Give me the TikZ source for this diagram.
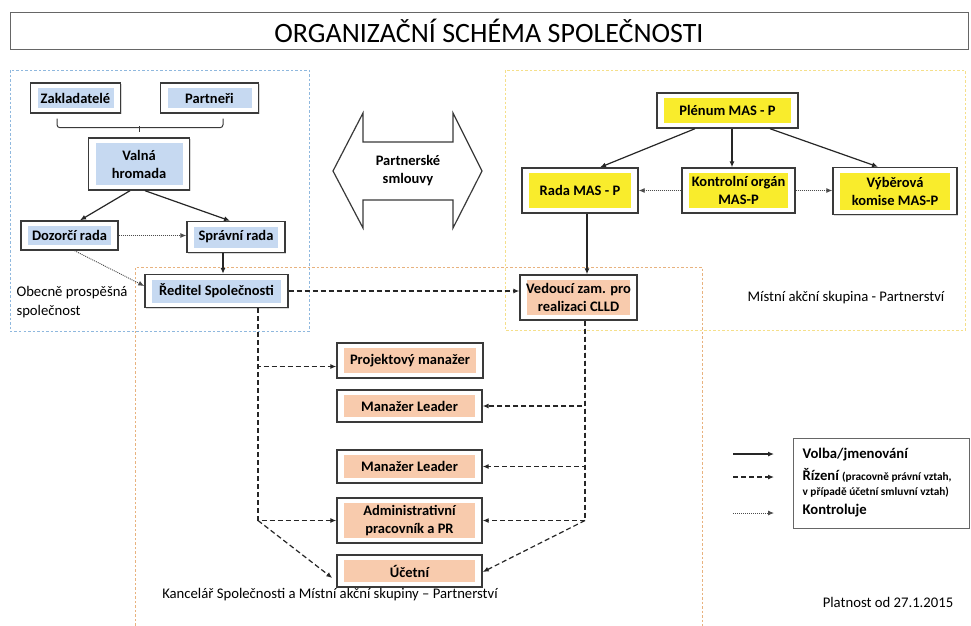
\documentclass[tikz,border=0pt]{standalone}
\usepackage{fontspec}
\setmainfont{Carlito}
\usetikzlibrary{arrows.meta,shadows,calc}
\definecolor{boxblue}{HTML}{C6D9F1}
\definecolor{boxyellow}{HTML}{F9EC2C}
\definecolor{boxpeach}{HTML}{F8CBAD}
\definecolor{regblue}{HTML}{8FB8DE}
\definecolor{regyellow}{HTML}{F5DF8A}
\definecolor{regorange}{HTML}{E8B27E}
\definecolor{edge}{HTML}{3A3A3A}
\tikzset{
  base/.style={draw=edge, line width=1.4pt, fill=white, align=center,
    font=\fontsize{14.5}{18}\selectfont\bfseries, inner sep=1pt,
    drop shadow={shadow xshift=1.3pt,shadow yshift=-1.3pt,opacity=0.3}},
  infill/.style={path picture={\fill[#1] ([shift={(7pt,-5pt)}]path picture bounding box.north west) rectangle ([shift={(-7pt,5pt)}]path picture bounding box.south east);}},
  bluebox/.style={base, infill=boxblue},
  yellowbox/.style={base, infill=boxyellow},
  peachbox/.style={base, infill=boxpeach},
  tip/.style={-{Latex[length=6pt,width=5pt]}},
  solidc/.style={tip, draw=black!85, line width=1.2pt},
  dashc/.style={tip, draw=black!85, line width=1.2pt, dash pattern=on 5pt off 3pt},
  dotc/.style={tip, draw=black!70, line width=0.9pt, dash pattern=on 1pt off 1pt},
  region/.style={line width=1pt, dash pattern=on 2.5pt off 2pt},
  plain/.style={font=\fontsize{14.7}{19}\selectfont},
}
\begin{document}
\begin{tikzpicture}[x=1pt,y=-1pt]
\useasboundingbox[fill=white] (0,0) rectangle (971,625);

% title
\node[draw=black!60, line width=1pt, minimum width=958pt, minimum height=37pt,
  font=\fontsize{28}{32}\selectfont] (title) at (489,30.5) {ORGANIZAČNÍ SCHÉMA SPOLEČNOSTI};

% regions
\draw[region, regblue] (10,70) rectangle (309,331);
\draw[region, regyellow] (505,70) rectangle (965,330);
\draw[region, regorange] (135,630) -- (135,267) -- (702,267) -- (702,630);

% left group
\node[bluebox, minimum width=90pt, minimum height=30pt] (zak) at (75.5,98) {Zakladatelé};
\node[bluebox, minimum width=98pt, minimum height=30pt] (par) at (209.5,98) {Partneři};
\node[bluebox, minimum width=101pt, minimum height=52pt] (val) at (139,164) {Valná\\hromada};
\node[bluebox, minimum width=97pt, minimum height=29pt] (doz) at (69.5,235.5) {Dozorčí rada};
\node[bluebox, minimum width=98pt, minimum height=31pt] (spr) at (236,237) {Správní rada};
\node[bluebox, minimum width=143pt, minimum height=33pt] (red) at (216.5,291) {Ředitel Společnosti};

% brace
\coordinate (brL) at ([xshift=-18.5pt,yshift=-5pt]zak.south);
\coordinate (brR) at ([xshift=13.5pt,yshift=-5pt]par.south);
\draw[edge, line width=1pt, rounded corners=3pt] (brL) -- ++(0,9) -- ($(brR)+(0,9)$) -- (brR);
\draw[edge, line width=1pt] ($(val.north)+(0,-11)$) -- ($(val.north)+(0,-5)$);

% double arrow
\draw[edge, line width=1.2pt, fill=white, line join=miter]
  (333,171) -- (363,113) -- (363,142) -- (453,142) -- (453,113) -- (482,171)
  -- (453,228) -- (453,200) -- (363,200) -- (363,228) -- cycle;
\node[font=\fontsize{14.5}{18}\selectfont\bfseries, align=center] (ps) at (408,171) {Partnerské\\smlouvy};

% right group
\node[yellowbox, minimum width=141pt, minimum height=35pt] (plen) at (727.5,110.5) {Plénum MAS - P};
\node[yellowbox, minimum width=116pt, minimum height=45pt] (rada) at (580,190.5) {Rada MAS - P};
\node[yellowbox, minimum width=113pt, minimum height=45pt] (kont) at (738.5,190.5) {Kontrolní orgán\\MAS-P};
\node[yellowbox, minimum width=124pt, minimum height=47pt] (vyb) at (895,191) {Výběrová\\komise MAS-P};
\node[peachbox, minimum width=117pt, minimum height=45pt] (ved) at (578.5,297.5) {Vedoucí zam. pro\\realizaci CLLD};

% office
\node[peachbox, minimum width=146pt, minimum height=35pt] (proj) at (410,360.5) {Projektový manažer};
\node[peachbox, minimum width=145pt, minimum height=32pt] (ml1) at (409.5,406) {Manažer Leader};
\node[peachbox, minimum width=145pt, minimum height=33pt] (ml2) at (409.5,466.5) {Manažer Leader};
\node[peachbox, minimum width=145pt, minimum height=45pt] (adm) at (409.5,520.5) {Administrativní\\pracovník a PR};
\node[peachbox, minimum width=145pt, minimum height=32pt] (uce) at (409.5,571) {Účetní};

% connectors left
\draw[solidc] ([xshift=-9pt]val.south) -- ([xshift=10.5pt]doz.north);
\draw[solidc] ([xshift=6pt]val.south) -- ([xshift=-6pt]spr.north);
\draw[dotc] (doz.east) -- (doz.east -| spr.west);
\draw[solidc] ([xshift=-13pt]spr.south) -- ([xshift=-13pt]spr.south |- red.north);
\draw[dotc] ([xshift=5pt]doz.south) -- ([yshift=5pt]red.west);
\draw[dashc] (red.east) -- (red.east -| ved.west);

% connectors right
\draw[solidc] ([xshift=-32.5pt]plen.south) -- ([xshift=20pt]rada.north);
\draw[solidc] ([xshift=4.5pt]plen.south) -- ([xshift=4.5pt]plen.south |- kont.north);
\draw[solidc] ([xshift=42.5pt]plen.south) -- ([xshift=-17pt]vyb.north);
\draw[dotc] (kont.west) -- (rada.east);
\draw[dotc] (kont.east) -- (kont.east -| vyb.west);
\draw[solidc] ([xshift=7pt]rada.south) -- ([xshift=7pt]rada.south |- ved.north);

% office connectors
\coordinate (jl) at ([xshift=41.5pt]red.south |- adm.west);
\coordinate (jr) at ([xshift=6.5pt]ved.south |- adm.east);
\draw[dashc] ([xshift=41.5pt]red.south) |- ([yshift=-6pt]proj.west);
\draw[dashc] ([xshift=41.5pt]red.south) |- (adm.west);
\draw[dashc] (jl) -- ([xshift=-4pt,yshift=-7pt]uce.west);
\draw[dashc] ([xshift=6.5pt]ved.south) |- (ml1.east);
\draw[dashc] ([xshift=6.5pt]ved.south) |- (ml2.east);
\draw[dashc] ([xshift=6.5pt]ved.south) |- (adm.east);
\draw[dashc] (jr) -- ([yshift=-1pt]uce.east);

% labels
\node[plain, anchor=west, align=left] (lop) at (13,302) {Obecně prospěšná\\společnost};
\node[plain] (lmas) at (846,298) {Místní akční skupina - Partnerství};
\node[plain] (lkan) at (330,595) {Kancelář Společnosti a Místní akční skupiny – Partnerství};
\node[plain] (lplat) at (888,602) {Platnost od 27.1.2015};

% legend
\node[draw=black!60, line width=1.2pt, minimum width=176pt, minimum height=90pt, anchor=north west] (leg) at (793,438) {};
\node[anchor=west, font=\fontsize{14.7}{17}\selectfont\bfseries] (lv) at (799,455) {Volba/jmenování};
\node[anchor=west, font=\fontsize{14.7}{17}\selectfont\bfseries] (lr) at (799,475) {Řízení {\fontsize{11.3}{13}\selectfont (pracovně právní vztah,}};
\node[anchor=west, font=\fontsize{11.3}{13}\selectfont\bfseries] (lr2) at (799,492) {v případě účetní smluvní vztah)};
\node[anchor=west, font=\fontsize{14.7}{17}\selectfont\bfseries] (lk) at (799,511) {Kontroluje};
\coordinate (a1) at (733,454); \coordinate (b1) at (774,454);
\coordinate (a2) at (733,477); \coordinate (b2) at (774,477);
\coordinate (a3) at (733,513); \coordinate (b3) at (774,513);
\draw[solidc] (a1) -- (b1);
\draw[dashc] (a2) -- (b2);
\draw[dotc] (a3) -- (b3);
\end{tikzpicture}
\end{document}
